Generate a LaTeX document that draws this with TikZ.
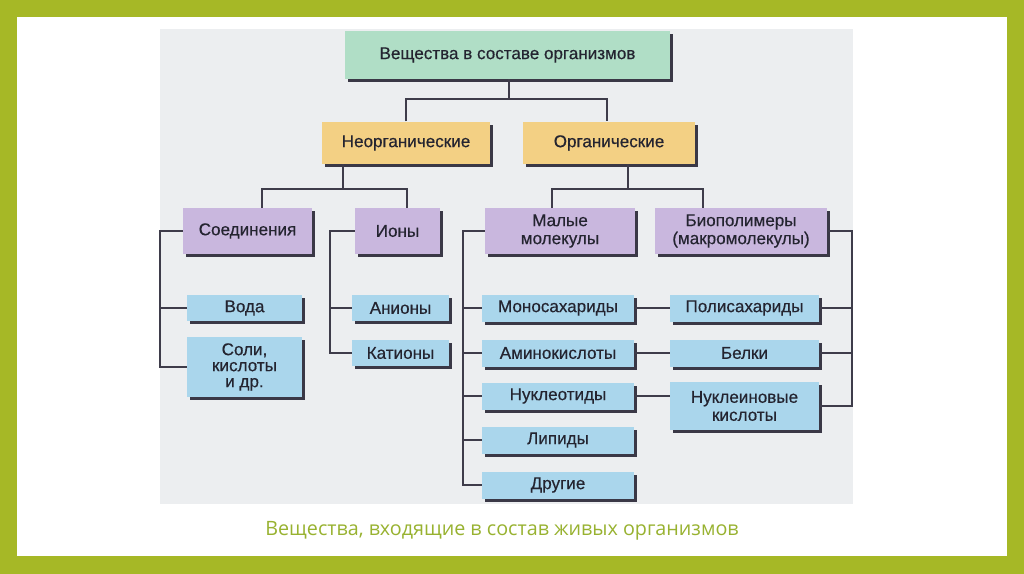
\documentclass[tikz,border=0pt]{standalone}
\usepackage{fontspec}
\setmainfont{Liberation Sans}
\newfontfamily\boxfont[BoldFont={Liberation Sans},BoldFeatures={FakeBold=0.5}]{Liberation Sans}
\newfontfamily\capfont{Open Sans}
\usetikzlibrary{shadows}

\definecolor{framegreen}{RGB}{166,184,38}
\definecolor{capgreen}{RGB}{152,178,48}
\definecolor{scanbg}{RGB}{236,238,240}
\definecolor{topgreen}{RGB}{176,222,198}
\definecolor{orgorange}{RGB}{243,208,132}
\definecolor{grpviolet}{RGB}{201,183,222}
\definecolor{leafblue}{RGB}{170,214,236}
\definecolor{shadowgray}{RGB}{58,56,70}
\definecolor{linegray}{RGB}{62,60,74}
\definecolor{textgray}{RGB}{36,36,48}

\tikzset{every picture/.style={line width=0.75pt}}
\tikzset{
  box/.style={fill=#1, inner sep=0pt, align=center, text=textgray,
    font=\boxfont\bfseries\fontsize{12.8}{13.5}\selectfont,
    drop shadow={shadow xshift=2.4pt, shadow yshift=-2.4pt, fill=shadowgray, opacity=1}},
  link/.style={draw=linegray, line width=1.3pt}
}

\begin{document}
\begin{tikzpicture}[x=0.75pt,y=0.75pt,yscale=-1,xscale=1]
\useasboundingbox (0,0) rectangle (1024,574);

%Frame
\fill[framegreen] (0,0) rectangle (1024,574);
\fill[white] (17,17) rectangle (1007,556);
%Scanned area
\fill[scanbg] (160,29) rectangle (853,504);

%Level 0
\node[box=topgreen, minimum width=243.75pt, minimum height=36pt] (top) at (507.5,55) {Вещества в составе организмов};
%Level 1
\node[box=orgorange, minimum width=126pt, minimum height=31.5pt] (neorg) at (406,143) {Неорганические};
\node[box=orgorange, minimum width=129pt, minimum height=31.5pt] (org) at (609,143) {Органические};
%Level 2
\node[box=grpviolet, minimum width=96.75pt, minimum height=34.5pt] (soed) at (247.5,231) {Соединения};
\node[box=grpviolet, minimum width=63.75pt, minimum height=34.5pt] (iony) at (397.5,231) {Ионы};
\node[box=grpviolet, minimum width=112.5pt, minimum height=34.5pt] (malye) at (560,231) {Малые\\молекулы};
\node[box=grpviolet, minimum width=129pt, minimum height=34.5pt] (biopol) at (741,231) {Биополимеры\\(макромолекулы)};
%Leaves, inorganic
\node[box=leafblue, minimum width=86.25pt, minimum height=19.5pt] (voda) at (244.5,308) {Вода};
\node[box=leafblue, minimum width=86.25pt, minimum height=45pt, font=\boxfont\bfseries\fontsize{12.8}{12}\selectfont] (soli) at (244.5,367) {Соли,\\кислоты\\и др.};
\node[box=leafblue, minimum width=72.75pt, minimum height=19.5pt] (anion) at (400.5,308) {Анионы};
\node[box=leafblue, minimum width=72.75pt, minimum height=19.5pt] (kation) at (400.5,353) {Катионы};
%Leaves, small molecules
\node[box=leafblue, minimum width=114pt, minimum height=20.25pt] (mono) at (558,308) {Моносахариды};
\node[box=leafblue, minimum width=114pt, minimum height=20.25pt] (amino) at (558,353) {Аминокислоты};
\node[box=leafblue, minimum width=114pt, minimum height=20.25pt] (nukleot) at (558,396) {Нуклеотиды};
\node[box=leafblue, minimum width=114pt, minimum height=20.25pt] (lipid) at (558,440) {Липиды};
\node[box=leafblue, minimum width=114pt, minimum height=20.25pt] (drugie) at (558,485) {Другие};
%Leaves, biopolymers
\node[box=leafblue, minimum width=111.75pt, minimum height=20.25pt] (polisah) at (744.5,308) {Полисахариды};
\node[box=leafblue, minimum width=111.75pt, minimum height=20.25pt] (belki) at (744.5,353) {Белки};
\node[box=leafblue, minimum width=111.75pt, minimum height=36pt] (nuklein) at (744.5,406) {Нуклеиновые\\кислоты};

%Bus points
\coordinate (tbus) at (509,99);
\coordinate (tl) at (406,99);
\coordinate (tr) at (607,99);
\coordinate (nbus) at (343,189);
\coordinate (nl) at (262,189);
\coordinate (nr) at (407,189);
\coordinate (obus) at (628,189);
\coordinate (ol) at (552,189);
\coordinate (or) at (703,189);
\coordinate (sx) at (160,0);
\coordinate (ix) at (330,0);
\coordinate (mx) at (463,0);
\coordinate (bx) at (852,0);

%Tree links
\draw[link] (top.south -| tbus) -- (tbus);
\draw[link] (neorg.north -| tl) -- (tl) -- (tr) -- (org.north -| tr);
\draw[link] (neorg.south -| nbus) -- (nbus);
\draw[link] (soed.north -| nl) -- (nl) -- (nr) -- (iony.north -| nr);
\draw[link] (org.south -| obus) -- (obus);
\draw[link] (malye.north -| ol) -- (ol) -- (or) -- (biopol.north -| or);
%Side trunks
\draw[link] (soed.west) -- (soed.west -| sx) |- (soli.west);
\draw[link] (voda.west) -- (voda.west -| sx);
\draw[link] (iony.west) -- (iony.west -| ix) |- (kation.west);
\draw[link] (anion.west) -- (anion.west -| ix);
\draw[link] (malye.west) -- (malye.west -| mx) |- (drugie.west);
\draw[link] (mono.west) -- (mono.west -| mx);
\draw[link] (amino.west) -- (amino.west -| mx);
\draw[link] (nukleot.west) -- (nukleot.west -| mx);
\draw[link] (lipid.west) -- (lipid.west -| mx);
\draw[link] (biopol.east) -- (biopol.east -| bx) |- (nuklein.east);
\draw[link] (polisah.east) -- (polisah.east -| bx);
\draw[link] (belki.east) -- (belki.east -| bx);
%Cross links
\draw[link] (mono.east) -- (polisah.west);
\draw[link] (amino.east) -- (belki.west);
\draw[link] (nukleot.east) -- (nukleot.east -| nuklein.west);

% Caption
\node[font=\capfont\fontsize{14.8}{17}\selectfont, text=capgreen] (caption) at (502,531) {Вещества, входящие в состав живых организмов};

\end{tikzpicture}
\end{document}
